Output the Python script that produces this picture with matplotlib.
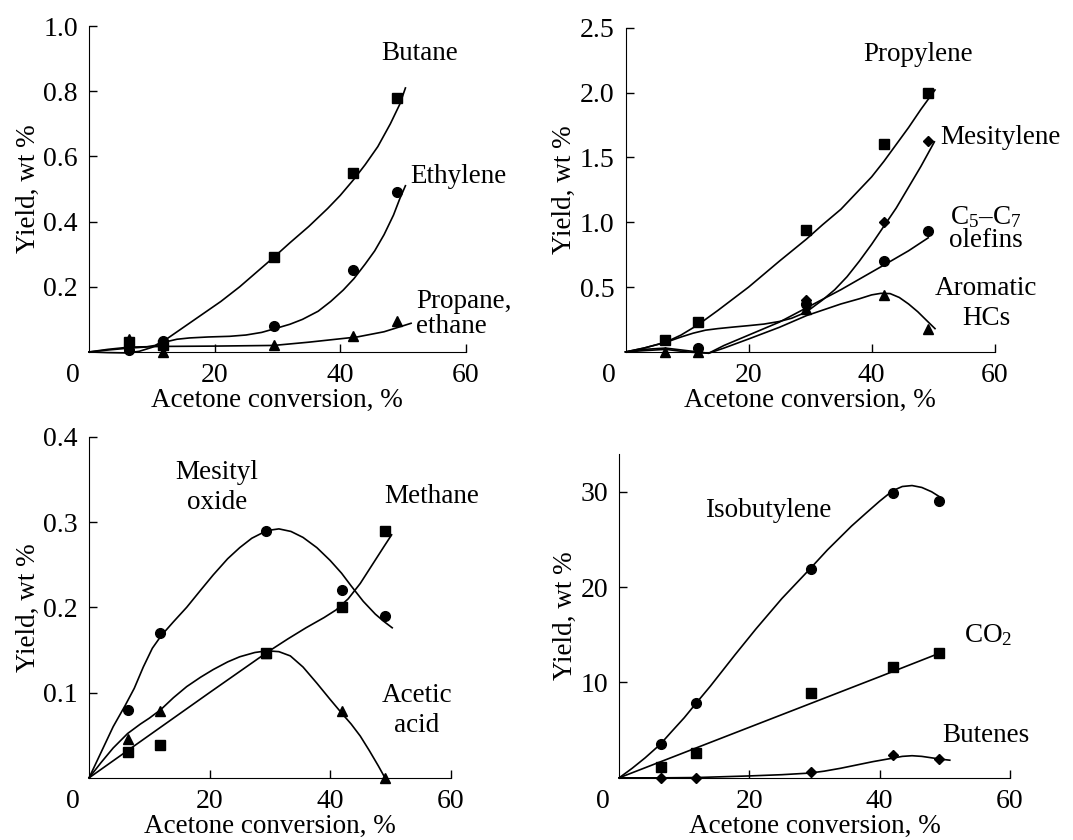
"""Product yields vs acetone conversion (four panels)."""

import matplotlib

matplotlib.use("Agg")
import matplotlib.pyplot as plt  # noqa: E402

plt.rcParams["font.family"] = ["Liberation Serif", "DejaVu Serif"]
plt.rcParams["mathtext.fontset"] = "custom"
plt.rcParams["mathtext.rm"] = "Liberation Serif"
plt.rcParams["mathtext.it"] = "Liberation Serif:italic"

FONT = 19.5
TICK_FONT = 20
XLABEL = "Acetone conversion, %"
YLABEL = "Yield, wt %"

# conversion points (same runs in every panel)
conv = [6.4, 11.8, 29.4, 42.0, 49.1]

# --- panel a: C2-C4 paraffins / ethylene ---
butane = [0.03, 0.02, 0.29, 0.55, 0.78]
ethylene = [0.005, 0.035, 0.08, 0.25, 0.49]
propane = [0.04, 0.0, 0.02, 0.05, 0.095]

butane_cx = [0, 3, 6.5, 9, 10.5, 12, 13.5, 15, 18, 21, 24, 27, 29.4, 32, 35, 38, 40,
             42.2, 44, 46, 48, 49.5, 50.4]
butane_cy = [0, 0.006, 0.012, 0.015, 0.02, 0.035, 0.055, 0.075, 0.115, 0.155, 0.2, 0.25,
             0.29, 0.335, 0.385, 0.44, 0.48, 0.53, 0.575, 0.63, 0.7, 0.76, 0.81]
ethylene_cx = [0, 3, 6, 8, 10, 12, 14, 16, 19, 22.4, 25, 27.5, 29.7, 32, 34, 36.5, 38.5,
               40.5, 42.2, 44, 45.5, 47, 48.5, 49.5, 50.4]
ethylene_cy = [0, -0.002, -0.003, 0.002, 0.014, 0.03, 0.039, 0.043, 0.046, 0.048, 0.052,
               0.06, 0.072, 0.085, 0.1, 0.125, 0.155, 0.19, 0.225, 0.27, 0.31, 0.36,
               0.42, 0.47, 0.51]
propane_cx = [0, 3, 6.5, 12, 20, 29.4, 35, 42.7, 47, 51.3]
propane_cy = [0, 0.008, 0.015, 0.017, 0.018, 0.02, 0.03, 0.046, 0.062, 0.088]

# --- panel b: propylene / aromatics ---
propylene = [0.095, 0.23, 0.94, 1.60, 2.0]
mesitylene_x = [29.4, 42.0, 49.1]
mesitylene = [0.40, 1.0, 1.63]
olefins_x = [11.8, 29.4, 42.0, 49.1]
olefins = [0.03, 0.37, 0.70, 0.93]
aromatic = [0.0, 0.0, 0.33, 0.44, 0.18]

propylene_cx = [0, 3, 6.5, 9, 11.8, 15, 20, 25, 29.4, 32, 35, 38, 40, 42, 44, 46, 48, 50.3]
propylene_cy = [0, 0.03, 0.075, 0.13, 0.21, 0.32, 0.5, 0.7, 0.87, 0.98, 1.1, 1.25, 1.35,
                1.47, 1.6, 1.73, 1.87, 2.02]
mesitylene_cx = [0, 3, 6.6, 9, 11, 13, 15, 17.5, 20, 22.5, 25, 27, 28.5, 30, 32, 34, 36,
                 38, 40, 42, 44, 46, 48, 50.2]
mesitylene_cy = [0, 0.03, 0.075, 0.115, 0.145, 0.168, 0.18, 0.192, 0.203, 0.215, 0.235,
                 0.26, 0.29, 0.33, 0.4, 0.48, 0.58, 0.7, 0.83, 0.97, 1.11, 1.27, 1.43, 1.62]
olefins_cx = [0, 3, 6.5, 10, 13.5, 16, 20, 25, 29.4, 35, 42, 46, 49.2]
olefins_cy = [0, 0.02, 0.03, 0.01, -0.01, 0.05, 0.13, 0.23, 0.34, 0.48, 0.67, 0.78, 0.88]
aromatic_cx = [0, 3, 6.5, 10, 13.5, 16, 20, 25, 29.4, 35, 38, 40, 41.5, 43, 44.5, 46,
               47.5, 49, 50.3]
aromatic_cy = [0, 0.01, 0.02, 0.0, -0.01, 0.03, 0.1, 0.19, 0.28, 0.37, 0.41, 0.44, 0.452,
               0.45, 0.42, 0.37, 0.31, 0.24, 0.18]

# --- panel c: mesityl oxide / methane / acetic acid ---
mesityl_oxide = [0.08, 0.17, 0.29, 0.22, 0.19]
methane = [0.03, 0.038, 0.146, 0.2, 0.29]
acetic = [0.046, 0.078, 0.146, 0.078, 0.0]

oxide_cx = [0, 2, 4, 6, 7.5, 9, 10.5, 12, 14, 16.2, 18.5, 20.6, 23, 25, 27, 29.5, 31.5,
            33.5, 35.5, 37.8, 40, 41.9, 43.5, 45.5, 47.5, 49, 50.3]
oxide_cy = [0, 0.03, 0.06, 0.085, 0.105, 0.13, 0.152, 0.167, 0.183, 0.2, 0.22, 0.238,
            0.257, 0.27, 0.281, 0.29, 0.292, 0.289, 0.282, 0.27, 0.255, 0.24, 0.225,
            0.207, 0.192, 0.183, 0.176]
methane_cx = [0, 10, 20, 29.5, 33, 36, 39, 41, 43, 45, 47, 49, 50.2]
methane_cy = [0, 0.05, 0.1, 0.147, 0.163, 0.176, 0.188, 0.197, 0.21, 0.228, 0.25, 0.272,
              0.285]
acetic_cx = [0, 2, 4, 6.4, 8.5, 10, 11.9, 14, 16.2, 18.5, 20.6, 23, 25, 27.5, 29.5, 31.5,
             33.4, 35.5, 37.8, 40, 41.9, 43.5, 45, 46.5, 48, 49.1]
acetic_cy = [0, 0.018, 0.035, 0.052, 0.063, 0.07, 0.08, 0.094, 0.107, 0.118, 0.127,
             0.136, 0.142, 0.147, 0.149, 0.148, 0.143, 0.13, 0.111, 0.092, 0.076, 0.063,
             0.049, 0.032, 0.014, 0.0]

# --- panel d: isobutylene / CO2 / butenes ---
isobutylene = [3.6, 7.9, 21.9, 29.9, 29.0]
co2 = [1.1, 2.6, 8.9, 11.6, 13.1]
butenes = [0.0, 0.0, 0.6, 2.4, 2.0]

isobutylene_cx = [0, 2, 4, 6.3, 8, 10, 11.8, 14, 17.8, 21, 25, 29.3, 32, 35.7, 38, 40, 42,
                  43.5, 45, 46.5, 48, 49.4]
isobutylene_cy = [0, 1.0, 2.1, 3.5, 4.8, 6.3, 7.8, 9.6, 12.9, 15.6, 18.8, 21.9, 23.9,
                  26.4, 27.8, 29.0, 30.1, 30.55, 30.65, 30.45, 30.0, 29.4]
co2_cx = [0, 10, 20, 30, 40, 49.7]
co2_cy = [0, 2.65, 5.3, 7.95, 10.6, 13.2]
butenes_cx = [0, 6.3, 11.8, 20, 25, 29.3, 31.5, 34, 36.5, 39, 41.9, 43.5, 45, 46.5, 48,
              49.5, 50.8]
butenes_cy = [0, 0.0, 0.03, 0.2, 0.33, 0.5, 0.7, 1.0, 1.35, 1.7, 2.05, 2.25, 2.32, 2.25,
              2.1, 1.95, 1.85]


def style_axes(ax, ymax, yticks, yfmt):
    ax.set_xlim(0, 60)
    ax.set_ylim(0, ymax)
    ax.spines["top"].set_visible(False)
    ax.spines["right"].set_visible(False)
    ax.set_xticks([20, 40, 60])
    ax.set_yticks(yticks)
    ax.set_yticklabels([yfmt.format(v) for v in yticks])
    ax.tick_params(direction="in", length=5.5, width=1, labelsize=TICK_FONT, pad=8)
    ax.set_xlabel(XLABEL, fontsize=FONT, labelpad=0)
    ax.set_ylabel(YLABEL, fontsize=FONT, labelpad=2)
    ax.annotate("0", xy=(0, 0), xycoords="axes fraction", xytext=(-12, -8),
                textcoords="offset points", ha="center", va="top", fontsize=TICK_FONT)


def curve(ax, x, y):
    ax.plot(x, y, color="black", lw=1.2, clip_on=False, zorder=2,
            solid_joinstyle="round")


def marks(ax, x, y, marker, size):
    ax.plot(x, y, ls="none", marker=marker, ms=size, color="black",
            clip_on=False, zorder=3)


def label(ax, x, y, s, ha="center"):
    ax.text(x, y, s, fontsize=FONT, ha=ha, va="center")


def main() -> None:
    fig = plt.figure(figsize=(10.73, 8.4), dpi=100)
    ax1 = fig.add_axes([0.083, 0.581, 0.351, 0.388])
    ax2 = fig.add_axes([0.583, 0.581, 0.344, 0.386])
    ax3 = fig.add_axes([0.083, 0.074, 0.337, 0.406])
    ax4 = fig.add_axes([0.577, 0.074, 0.364, 0.386])

    # panel a
    style_axes(ax1, 1.0, [0.2, 0.4, 0.6, 0.8, 1.0], "{:.1f}")
    curve(ax1, butane_cx, butane_cy)
    curve(ax1, ethylene_cx, ethylene_cy)
    curve(ax1, propane_cx, propane_cy)
    marks(ax1, conv, butane, "s", 7)
    marks(ax1, conv, ethylene, "o", 7)
    marks(ax1, conv, propane, "^", 7)
    label(ax1, 52.7, 0.916, "Butane")
    label(ax1, 58.8, 0.537, "Ethylene")
    label(ax1, 52.1, 0.154, "Propane,", ha="left")
    label(ax1, 52.1, 0.077, "ethane", ha="left")

    # panel b
    style_axes(ax2, 2.5, [0.5, 1.0, 1.5, 2.0, 2.5], "{:.1f}")
    curve(ax2, propylene_cx, propylene_cy)
    curve(ax2, mesitylene_cx, mesitylene_cy)
    curve(ax2, olefins_cx, olefins_cy)
    curve(ax2, aromatic_cx, aromatic_cy)
    marks(ax2, conv, propylene, "s", 7)
    marks(ax2, mesitylene_x, mesitylene, "D", 5)
    marks(ax2, olefins_x, olefins, "o", 7)
    marks(ax2, conv, aromatic, "^", 7)
    label(ax2, 47.5, 2.29, "Propylene")
    label(ax2, 51.1, 1.65, "Mesitylene", ha="left")
    label(ax2, 58.6, 1.04, "C$_5$\u2013C$_7$")
    label(ax2, 58.6, 0.86, "olefins")
    label(ax2, 58.6, 0.49, "Aromatic")
    label(ax2, 58.6, 0.26, "HCs")

    # panel c
    style_axes(ax3, 0.4, [0.1, 0.2, 0.3, 0.4], "{:.1f}")
    curve(ax3, oxide_cx, oxide_cy)
    curve(ax3, methane_cx, methane_cy)
    curve(ax3, acetic_cx, acetic_cy)
    marks(ax3, conv, acetic, "^", 7)
    marks(ax3, conv, mesityl_oxide, "o", 7)
    marks(ax3, conv, methane, "s", 7)
    label(ax3, 21.2, 0.358, "Mesityl")
    label(ax3, 21.2, 0.323, "oxide")
    label(ax3, 56.9, 0.33, "Methane")
    label(ax3, 54.4, 0.097, "Acetic")
    label(ax3, 54.4, 0.061, "acid")

    # panel d
    style_axes(ax4, 34, [10, 20, 30], "{:.0f}")
    curve(ax4, isobutylene_cx, isobutylene_cy)
    curve(ax4, co2_cx, co2_cy)
    curve(ax4, butenes_cx, butenes_cy)
    marks(ax4, conv, isobutylene, "o", 7)
    marks(ax4, conv, co2, "s", 7)
    marks(ax4, conv, butenes, "D", 5)
    label(ax4, 22.9, 28.0, "Isobutylene")
    label(ax4, 56.7, 15.0, "CO$_2$")
    label(ax4, 56.4, 4.4, "Butenes")

    fig.savefig("out.png", dpi=100)
    plt.close(fig)


if __name__ == "__main__":
    main()
